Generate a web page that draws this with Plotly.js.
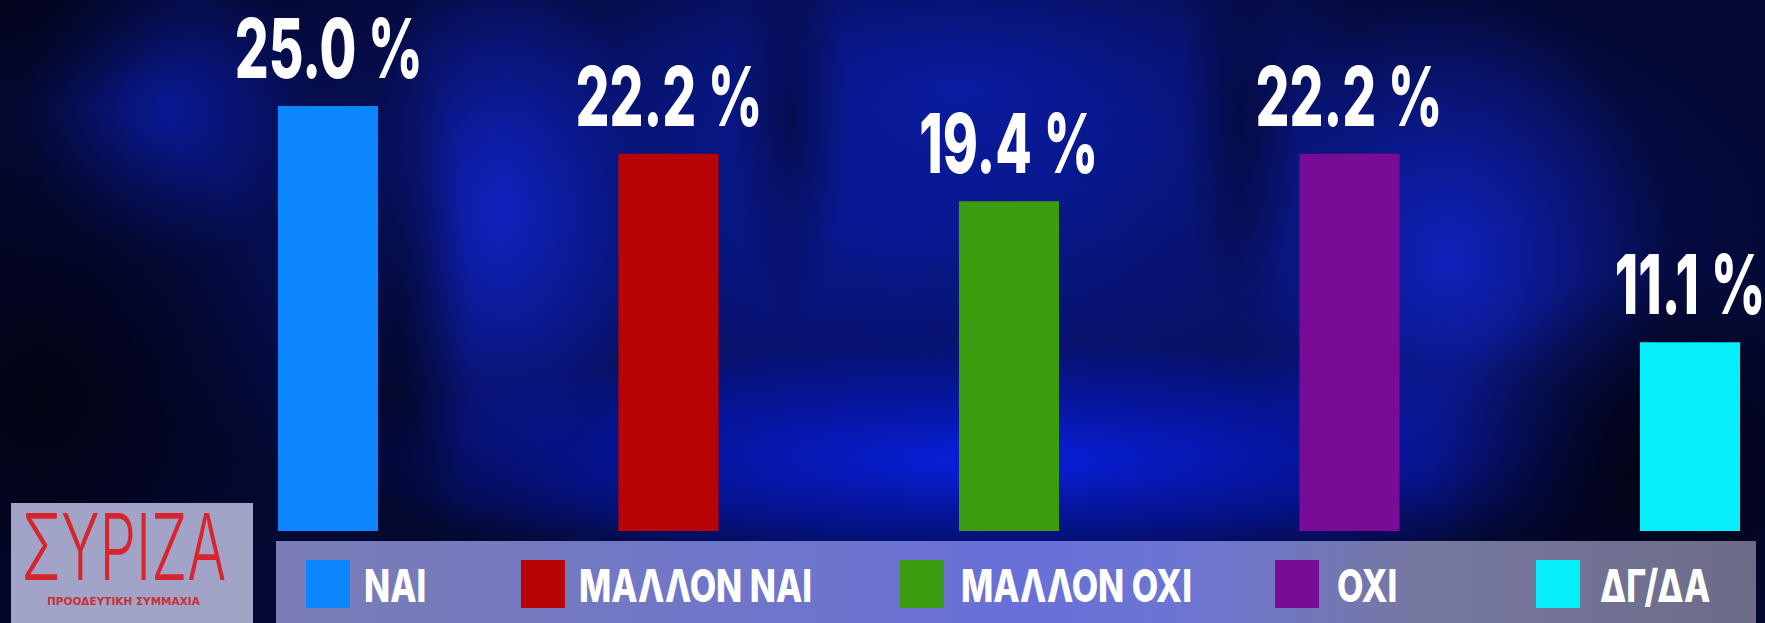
<!DOCTYPE html>
<html>
<head>
<meta charset="utf-8">
<script src="https://cdn.plot.ly/plotly-3.0.1.min.js"></script>
<style>html,body{margin:0;padding:0;background:#02041c;}#chart{width:1765px;height:623px;}</style>
</head>
<body>
<div id="chart"></div>
<script>
// ---- data ----
const categories = ['ΝΑΙ', 'ΜΑΛΛΟΝ ΝΑΙ', 'ΜΑΛΛΟΝ ΟΧΙ', 'ΟΧΙ', 'ΔΓ/ΔΑ'];
const values = [25.0, 22.2, 19.4, 22.2, 11.1];
const valueLabels = ['25.0 %', '22.2 %', '19.4 %', '22.2 %', '11.1 %'];
const logoTitle = 'ΣΥΡΙΖΑ';
const logoSubtitle = 'ΠΡΟΟΔΕΥΤΙΚΗ ΣΥΜΜΑΧΙΑ';

// ---- style ----
const barColors = ['#0b86ff', '#b80404', '#3c9c10', '#780c96', '#06eefa'];
const W = 1765, H = 623;
const legendSquareX = [306, 521, 900, 1275, 1536];
const legendTextX = [362, 577, 959, 1335, 1598];
const HEAVY = 'Inter, Roboto, "DejaVu Sans", sans-serif';

const bg = `<svg xmlns='http://www.w3.org/2000/svg' width='${W}' height='${H}' viewBox='0 0 ${W} ${H}' preserveAspectRatio='none'>
<defs>
<radialGradient id='b1' cx='0.5' cy='0.5' r='0.5'><stop offset='0' stop-color='#0820e0' stop-opacity='1'/><stop offset='0.6' stop-color='#0618c0' stop-opacity='0.55'/><stop offset='1' stop-color='#0618c0' stop-opacity='0'/></radialGradient>
<radialGradient id='b2' cx='0.5' cy='0.5' r='0.5'><stop offset='0' stop-color='#0b1fb8' stop-opacity='0.7'/><stop offset='1' stop-color='#0b1fb8' stop-opacity='0'/></radialGradient>
<radialGradient id='b3' cx='0.5' cy='0.5' r='0.5'><stop offset='0' stop-color='#1226d4' stop-opacity='0.8'/><stop offset='1' stop-color='#1226d4' stop-opacity='0'/></radialGradient>
<radialGradient id='d1' cx='0.5' cy='0.5' r='0.5'><stop offset='0' stop-color='#010210' stop-opacity='0.95'/><stop offset='1' stop-color='#010210' stop-opacity='0'/></radialGradient>
<linearGradient id='band' x1='0' y1='0' x2='1' y2='0'>
<stop offset='0' stop-color='#7a7db4'/><stop offset='0.35' stop-color='#6e75cc'/><stop offset='0.5' stop-color='#6870d8'/><stop offset='0.62' stop-color='#6d75d2'/><stop offset='0.78' stop-color='#76789f'/><stop offset='1' stop-color='#6c6c88'/></linearGradient>
</defs>
<rect width='${W}' height='${H}' fill='#040934'/>
<ellipse cx='900' cy='230' rx='900' ry='330' fill='url(#b2)'/>
<ellipse cx='1000' cy='460' rx='680' ry='120' fill='url(#b1)'/>
<ellipse cx='960' cy='90' rx='420' ry='180' fill='url(#b2)'/>
<ellipse cx='1450' cy='260' rx='220' ry='260' fill='url(#b3)'/>
<ellipse cx='500' cy='210' rx='150' ry='260' fill='url(#b3)'/>
<ellipse cx='170' cy='110' rx='150' ry='150' fill='url(#b2)'/>
<ellipse cx='40' cy='400' rx='260' ry='300' fill='url(#d1)'/>
<ellipse cx='0' cy='0' rx='200' ry='120' fill='url(#d1)' opacity='0.7'/>
<ellipse cx='1660' cy='470' rx='230' ry='200' fill='url(#d1)'/>
<ellipse cx='790' cy='120' rx='60' ry='200' fill='url(#d1)' opacity='0.5'/>
<ellipse cx='1240' cy='120' rx='60' ry='200' fill='url(#d1)' opacity='0.5'/>
<ellipse cx='400' cy='330' rx='70' ry='300' fill='url(#d1)' opacity='0.6'/>
<rect x='276' y='541' width='1480' height='82' fill='url(#band)'/>
<rect x='11' y='503' width='242' height='120' fill='#a1a3c7'/>
</svg>`;

const trace = {
  type: 'bar',
  x: categories,
  y: values,
  width: values.map(() => 0.294),
  marker: { color: barColors, line: { width: 0 } },
  hoverinfo: 'skip',
  showlegend: false
};

const annotations = [];
const squeeze = []; // [annotation index, x-scale, anchor]
categories.forEach((c, i) => {
  squeeze.push([annotations.length, 0.65, 'center']);
  annotations.push({
    x: c, y: values[i], xref: 'x', yref: 'y',
    text: valueLabels[i],
    showarrow: false, yanchor: 'bottom', xanchor: 'center', yshift: 6,
    font: { family: HEAVY, size: 82, weight: 800, color: '#ffffff' }
  });
  squeeze.push([annotations.length, 0.76, 'left']);
  annotations.push({
    x: legendTextX[i] / W, y: 1 - 585 / H, xref: 'paper', yref: 'paper',
    text: c, showarrow: false, xanchor: 'left', yanchor: 'middle',
    font: { family: HEAVY, size: 45, weight: 800, color: '#ffffff' }
  });
});
squeeze.push([annotations.length, 0.63, 'center']);
annotations.push({
  x: 124 / W, y: 1 - 546 / H, xref: 'paper', yref: 'paper', text: logoTitle,
  showarrow: false, xanchor: 'center', yanchor: 'middle',
  font: { family: 'Inter, "DejaVu Sans", sans-serif', size: 92, weight: 300, color: '#d8252d' }
});
annotations.push({
  x: 124 / W, y: 1 - 601 / H, xref: 'paper', yref: 'paper', text: '<b>' + logoSubtitle + '</b>',
  showarrow: false, xanchor: 'center', yanchor: 'middle',
  font: { family: '"DejaVu Sans", sans-serif', size: 10.5, color: '#c83038' }
});

const shapes = categories.map((c, i) => ({
  type: 'rect', xref: 'paper', yref: 'paper', layer: 'above',
  x0: legendSquareX[i] / W, x1: (legendSquareX[i] + 44) / W,
  y0: 1 - 608 / H, y1: 1 - 560 / H,
  fillcolor: barColors[i], line: { width: 0 }
}));

const layout = {
  width: W, height: H,
  margin: { l: 0, r: 0, t: 0, b: 0, pad: 0 },
  paper_bgcolor: 'rgba(0,0,0,0)', plot_bgcolor: 'rgba(0,0,0,0)',
  xaxis: { type: 'category', range: [-0.9633, 4.2203], showgrid: false, zeroline: false, showticklabels: false, showline: false, ticks: '', fixedrange: true },
  yaxis: { range: [0, 31.24], domain: [92 / H, 1], showgrid: false, zeroline: false, showticklabels: false, showline: false, ticks: '', fixedrange: true },
  images: [{
    source: 'data:image/svg+xml;charset=utf-8,' + encodeURIComponent(bg),
    xref: 'paper', yref: 'paper', x: 0, y: 1, sizex: 1, sizey: 1,
    xanchor: 'left', yanchor: 'top', sizing: 'stretch', layer: 'below'
  }],
  shapes: shapes,
  annotations: annotations,
  showlegend: false
};

Plotly.newPlot('chart', [trace], layout, { displayModeBar: false, staticPlot: true }).then(gd => {
  const groups = gd.querySelectorAll('g.annotation');
  squeeze.forEach(([idx, sx, anchor]) => {
    let g = null;
    groups.forEach(el => { if (+el.getAttribute('data-index') === idx) g = el; });
    if (!g) return;
    const t = g.querySelector('text');
    if (!t) return;
    const bb = t.getBBox();
    const ox = anchor === 'left' ? bb.x : bb.x + bb.width / 2;
    const prev = t.getAttribute('transform') || '';
    t.setAttribute('transform', `${prev} translate(${ox},0) scale(${sx},1) translate(${-ox},0)`);
  });
});
</script>
</body>
</html>
